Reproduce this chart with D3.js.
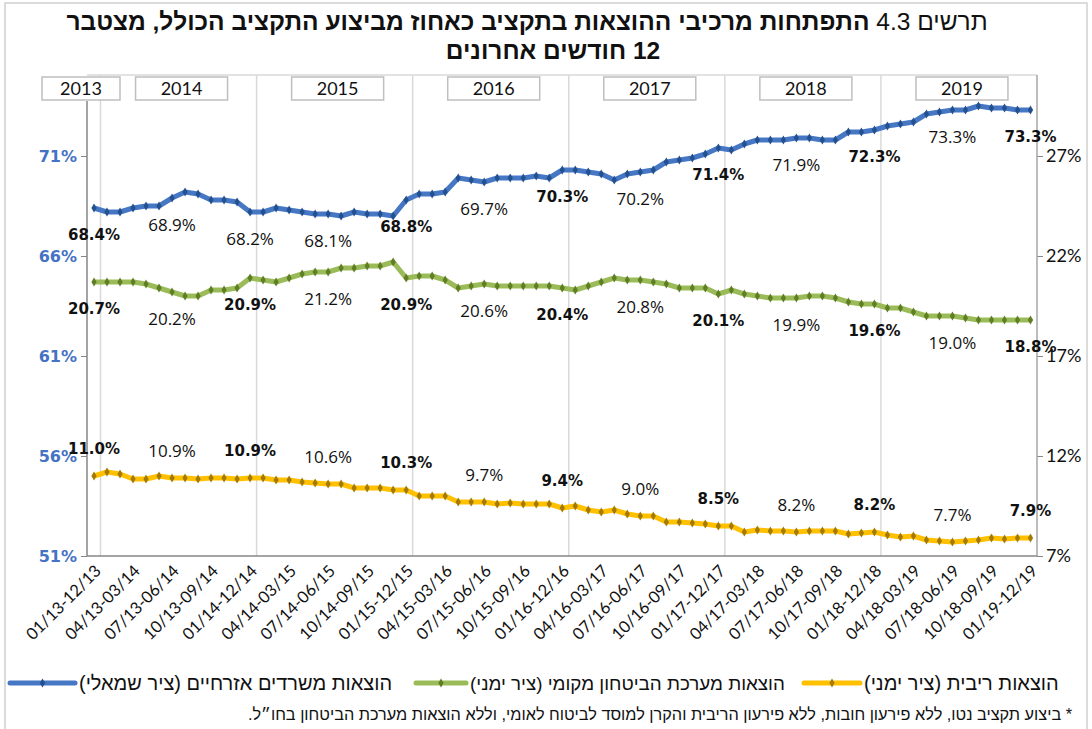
<!DOCTYPE html>
<meta charset="utf-8">
<script src="https://d3js.org/d3.v7.min.js"></script>
<style>
  body { margin: 0; background: #fff; }
  svg text { font-family: "Liberation Sans", "DejaVu Sans", sans-serif; }
</style>
<body>
<svg id="svg" width="1092" height="729"></svg>
<script>
// periods: rolling 12 months, Dec 2013 .. Dec 2019
var periods = [];
for (var i = 0; i < 73; i++) {
  var end = 12 + i;
  var sm = (end - 11 - 1) % 12 + 1, sy = 13 + Math.floor((end - 12) / 12);
  var em = (end - 1) % 12 + 1, ey = 13 + Math.floor((end - 1) / 12);
  var p = function(n) { return (n < 10 ? "0" : "") + n; };
  periods.push(p(sm) + "/" + sy + "-" + p(em) + "/" + ey);
}

var civil = [68.4, 68.2, 68.2, 68.4, 68.5, 68.5, 68.9, 69.2, 69.1, 68.8, 68.8, 68.7,
             68.2, 68.2, 68.4, 68.3, 68.2, 68.1, 68.1, 68.0, 68.2, 68.1, 68.1, 68.0,
             68.8, 69.1, 69.1, 69.2, 69.9, 69.8, 69.7, 69.9, 69.9, 69.9, 70.0, 69.9,
             70.3, 70.3, 70.2, 70.1, 69.8, 70.1, 70.2, 70.3, 70.7, 70.8, 70.9, 71.1,
             71.4, 71.3, 71.6, 71.8, 71.8, 71.8, 71.9, 71.9, 71.8, 71.8, 72.2, 72.2,
             72.3, 72.5, 72.6, 72.7, 73.1, 73.2, 73.3, 73.3, 73.5, 73.4, 73.4, 73.3,
             73.3];
var defense = [20.7, 20.7, 20.7, 20.7, 20.6, 20.4, 20.2, 20.0, 20.0, 20.3, 20.3, 20.4,
               20.9, 20.8, 20.7, 20.9, 21.1, 21.2, 21.2, 21.4, 21.4, 21.5, 21.5, 21.7,
               20.9, 21.0, 21.0, 20.8, 20.4, 20.5, 20.6, 20.5, 20.5, 20.5, 20.5, 20.5,
               20.4, 20.3, 20.5, 20.7, 20.9, 20.8, 20.8, 20.7, 20.6, 20.4, 20.4, 20.4,
               20.1, 20.3, 20.1, 20.0, 19.9, 19.9, 19.9, 20.0, 20.0, 19.9, 19.7, 19.6,
               19.6, 19.4, 19.4, 19.2, 19.0, 19.0, 19.0, 18.9, 18.8, 18.8, 18.8, 18.8,
               18.8];
var interest = [11.0, 11.2, 11.1, 10.85, 10.85, 11.0, 10.9, 10.9, 10.85, 10.9, 10.9, 10.85,
                10.9, 10.9, 10.8, 10.8, 10.7, 10.65, 10.6, 10.6, 10.4, 10.4, 10.4, 10.3,
                10.3, 10.0, 10.0, 10.0, 9.7, 9.7, 9.7, 9.6, 9.65, 9.6, 9.6, 9.6,
                9.4, 9.5, 9.3, 9.2, 9.3, 9.1, 9.0, 9.0, 8.7, 8.7, 8.65, 8.6,
                8.5, 8.5, 8.2, 8.3, 8.25, 8.25, 8.2, 8.25, 8.25, 8.25, 8.1, 8.15,
                8.2, 8.05, 7.95, 8.0, 7.8, 7.75, 7.7, 7.75, 7.8, 7.9, 7.85, 7.9,
                7.9];

var leftTicks = [51, 56, 61, 66, 71];
var rightTicks = [7, 12, 17, 22, 27];
var years = ["2013", "2014", "2015", "2016", "2017", "2018", "2019"];
var yearStart = [0, 1, 13, 25, 37, 49, 61];   // first index of each year

// labelled points every 6 months, which ones are bold
var civilBold = [0, 24, 36, 48, 60, 72];
var defenseBold = [0, 12, 24, 36, 48, 60, 72];
var interestBold = [0, 12, 24, 36, 48, 60, 72];

var legendNames = ["הוצאות משרדים אזרחיים (ציר שמאלי)",
                   "הוצאות מערכת הביטחון מקומי (ציר ימני)",
                   "הוצאות ריבית (ציר ימני)"];
var titleNum = "תרשים 4.3 ";
var titleMain = "התפתחות מרכיבי ההוצאות בתקציב כאחוז מביצוע התקציב הכולל, מצטבר";
var titleLine2 = "12 חודשים אחרונים";
var footnote = "* ביצוע תקציב נטו, ללא פירעון חובות, ללא פירעון הריבית והקרן למוסד לביטוח לאומי, וללא הוצאות מערכת הביטחון בחו״ל.";

var svg = d3.select("svg");
var pLeft = 87, pRight = 1037, pTop = 75, pBottom = 556;

var x = d3.scaleBand().domain(d3.range(73)).range([pLeft + 0.5, pRight]);
var cx = function(i) { return x(i) + x.bandwidth() / 2; };
var yL = d3.scaleLinear().domain([51, 75]).range([pBottom, pTop + 1]);
var yR = d3.scaleLinear().domain([7, 31]).range([pBottom, pTop + 1]);

// outer frame
svg.append("rect").attr("x", 5).attr("y", 3).attr("width", 1082).attr("height", 730)
  .attr("fill", "none").attr("stroke", "#d0d0d0").attr("stroke-width", 1.5);

// title
var t1 = svg.append("text").attr("x", 527).attr("y", 30).attr("direction", "rtl")
  .attr("text-anchor", "middle").style("font-size", "24.5px").attr("fill", "#111");
t1.append("tspan").text(titleNum);
t1.append("tspan").attr("font-weight", "bold").text(titleMain);
svg.append("text").attr("x", 553).attr("y", 59).attr("direction", "rtl")
  .attr("text-anchor", "middle").style("font-size", "24.5px").attr("font-weight", "bold")
  .attr("fill", "#111").text(titleLine2);

// plot frame top + grid
svg.append("line").attr("x1", pLeft).attr("x2", pRight).attr("y1", pTop).attr("y2", pTop)
  .attr("stroke", "#d9d9d9").attr("stroke-width", 1.5);
svg.selectAll(".grid").data(yearStart.slice(1)).enter().append("line")
  .attr("x1", function(d) { return x(d); }).attr("x2", function(d) { return x(d); })
  .attr("y1", pTop).attr("y2", pBottom)
  .attr("stroke", "#d9d9d9").attr("stroke-width", 1.5);

// axes
var gl = svg.append("g").attr("transform", "translate(" + pLeft + ",0)")
  .call(d3.axisLeft(yL).tickValues(leftTicks).tickSize(6).tickFormat(function(d) { return d + "%"; }));
gl.select(".domain").remove();
gl.selectAll("line").attr("stroke", "#868686");
gl.selectAll("text").attr("fill", "#4472C4").attr("font-weight", "bold")
  .style("font-family", "'DejaVu Sans', sans-serif").style("font-size", "16px").attr("x", -10);

var gr = svg.append("g").attr("transform", "translate(" + pRight + ",0)")
  .call(d3.axisRight(yR).tickValues(rightTicks).tickSize(6).tickFormat(function(d) { return d + "%"; }));
gr.select(".domain").remove();
gr.selectAll("line").attr("stroke", "#868686");
gr.selectAll("text").attr("fill", "#111")
  .style("font-family", "Lato, sans-serif").style("font-size", "18px").attr("x", 9);

svg.append("line").attr("x1", pLeft).attr("x2", pLeft).attr("y1", 101).attr("y2", pBottom)
  .attr("stroke", "#868686").attr("stroke-width", 1.5);
svg.append("line").attr("x1", pRight).attr("x2", pRight).attr("y1", pTop).attr("y2", pBottom)
  .attr("stroke", "#a6a6a6").attr("stroke-width", 1.5);
svg.append("line").attr("x1", pLeft).attr("x2", pRight).attr("y1", pBottom).attr("y2", pBottom)
  .attr("stroke", "#868686").attr("stroke-width", 1.5);

// x labels
svg.selectAll(".xl").data(d3.range(0, 73, 3)).enter().append("text")
  .attr("transform", function(i) { return "translate(" + (cx(i) + 4) + "," + (pBottom + 12) + ") rotate(-45)"; })
  .attr("text-anchor", "end").attr("dy", "0.35em")
  .style("font-family", "Lato, sans-serif").style("font-size", "16.5px").attr("fill", "#111")
  .text(function(i) { return periods[i]; });

// year boxes
var yearCenter = yearStart.map(function(s, k) {
  if (k === 0) return 81;
  return (x(s) + (k < 6 ? x(yearStart[k + 1]) : pRight)) / 2 + 3;
});
var yb = svg.selectAll(".yb").data(years).enter().append("g");
yb.append("rect")
  .attr("x", function(d, k) { return yearCenter[k] - (k === 0 ? 39 : 46); })
  .attr("width", function(d, k) { return k === 0 ? 78 : 92; })
  .attr("y", 77).attr("height", 23)
  .attr("fill", "#fff").attr("stroke", "#bfbfbf").attr("stroke-width", 1.5);
yb.append("text").attr("x", function(d, k) { return yearCenter[k]; }).attr("y", 95)
  .attr("text-anchor", "middle").style("font-family", "Lato, sans-serif").style("font-size", "18px")
  .attr("fill", "#111").text(function(d) { return d; });

// series
var series = [
  { v: civil, y: yL, color: "#4677C4", mark: "#23508f", bold: civilBold, dy: 27 },
  { v: defense, y: yR, color: "#9BBB59", mark: "#5f7f25", bold: defenseBold, dy: 27 },
  { v: interest, y: yR, color: "#FFC000", mark: "#a47b00", bold: interestBold, dy: -27 }
];
var fmt = d3.format(".1f");
series.forEach(function(s) {
  var line = d3.line().x(function(d, i) { return cx(i); }).y(function(d) { return s.y(d); });
  svg.append("path").datum(s.v).attr("d", line).attr("fill", "none")
    .attr("stroke", s.color).attr("stroke-width", 5).attr("stroke-linejoin", "round");
  svg.append("g").selectAll("path").data(s.v).enter().append("path")
    .attr("d", d3.symbol().type(d3.symbolDiamond).size(24))
    .attr("transform", function(d, i) { return "translate(" + cx(i) + "," + s.y(d) + ")"; })
    .attr("fill", s.mark);
  var idx = d3.range(0, 73, 6);
  svg.append("g").selectAll("text").data(idx).enter().append("text")
    .attr("x", function(i) { return cx(i); })
    .attr("y", function(i) { return s.y(s.v[i]) + s.dy; })
    .attr("dy", "0.35em").attr("text-anchor", "middle").attr("fill", "#111")
    .each(function(i) {
      var b = s.bold.indexOf(i) >= 0;
      d3.select(this)
        .style("font-family", b ? "'DejaVu Sans', sans-serif" : "'Open Sans', sans-serif")
        .style("font-size", b ? "15px" : "17px")
        .attr("font-weight", b ? "bold" : "normal");
    })
    .text(function(i) { return fmt(s.v[i]) + "%"; });
});

// legend
var legSw = [[10, 75], [416, 466], [804, 860]];
series.forEach(function(s, k) {
  var g = svg.append("g");
  var x0 = legSw[k][0], x1 = legSw[k][1], ly = 683;
  g.append("line").attr("x1", x0).attr("x2", x1).attr("y1", ly).attr("y2", ly)
    .attr("stroke", s.color).attr("stroke-width", 5).attr("stroke-linecap", "round");
  g.append("path").attr("d", d3.symbol().type(d3.symbolDiamond).size(24))
    .attr("transform", "translate(" + (x0 + x1) / 2 + "," + ly + ")").attr("fill", s.mark);
  var t = g.append("text").attr("direction", "rtl").attr("text-anchor", "middle")
    .attr("y", ly).attr("dy", "0.35em").style("font-size", k === 1 ? "18.8px" : "20px").attr("fill", "#111")
    .text(legendNames[k]);
  var w = t.node().getComputedTextLength();
  t.attr("x", x1 + 4 + w / 2);
});

// footnote
var fn = svg.append("text").attr("direction", "rtl").attr("text-anchor", "middle")
  .attr("y", 714).attr("dy", "0.35em").style("font-size", "16.3px").attr("fill", "#111")
  .text(footnote);
var fw = fn.node().getComputedTextLength();
fn.attr("x", 1072 - fw / 2);
</script>
</body>
